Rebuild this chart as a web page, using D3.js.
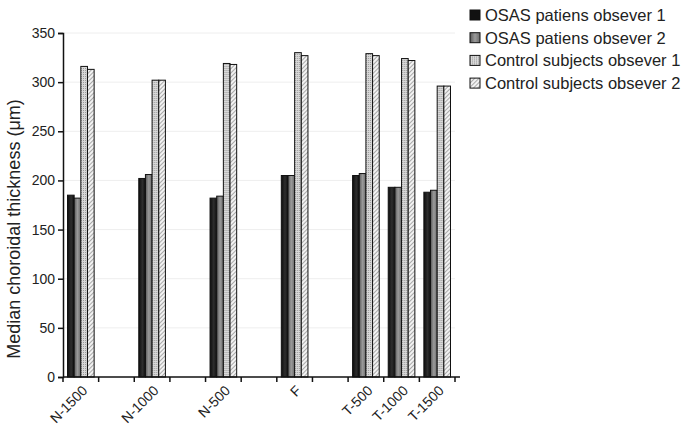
<!DOCTYPE html>
<html lang="en">
<head>
<meta charset="UTF-8">
<title>Median choroidal thickness</title>
<style>
  body { margin: 0; background: #fff; }
  svg { display: block; }
  svg text { font-family: Arial, "Liberation Sans", Helvetica, sans-serif; }
</style>
</head>
<body>
<div id="chart"></div>
<script src="https://d3js.org/d3.v7.min.js"></script>
<script>
// x slots: empty strings are gaps on the axis
const slots = ['N-1500', '', 'N-1000', '', 'N-500', '', 'F', '', 'T-500', 'T-1000', 'T-1500']
const categories = ['N-1500', 'N-1000', 'N-500', 'F', 'T-500', 'T-1000', 'T-1500']
const seriesNames = [
  'OSAS patiens obsever 1',
  'OSAS patiens obsever 2',
  'Control subjects obsever 1',
  'Control subjects obsever 2'
]
const osas1 = [185, 202, 182, 205, 205, 193, 188]
const osas2 = [182, 206, 184, 205, 207, 193, 190]
const control1 = [316, 302, 319, 330, 329, 324, 296]
const control2 = [313, 302, 318, 327, 327, 322, 296]
const yTicks = [0, 50, 100, 150, 200, 250, 300, 350]

const width = 690
const height = 428
const margin = { left: 63, right: 235, top: 33, bottom: 51 }
const fontFamily = 'Arial, "Liberation Sans", Helvetica, sans-serif'

const series = [osas1, osas2, control1, control2]

const svg = d3.select('#chart').append('svg')
  .attr('width', width)
  .attr('height', height)

// patterns / gradients for the four bar styles
const defs = svg.append('defs')
const g1 = defs.append('linearGradient').attr('id', 'gBlack')
g1.append('stop').attr('offset', '0%').attr('stop-color', '#0d0d0d')
g1.append('stop').attr('offset', '55%').attr('stop-color', '#2e2e2e')
g1.append('stop').attr('offset', '100%').attr('stop-color', '#101010')
const g2 = defs.append('linearGradient').attr('id', 'gGray')
g2.append('stop').attr('offset', '0%').attr('stop-color', '#5a5a5a')
g2.append('stop').attr('offset', '50%').attr('stop-color', '#9a9a9a')
g2.append('stop').attr('offset', '100%').attr('stop-color', '#6a6a6a')

const dots = defs.append('pattern').attr('id', 'pDots')
  .attr('patternUnits', 'userSpaceOnUse').attr('width', 2).attr('height', 2)
dots.append('rect').attr('width', 2).attr('height', 2).attr('fill', '#d8d8d8')
dots.append('rect').attr('width', 1).attr('height', 1).attr('fill', '#9a9a9a')

const hatch = defs.append('pattern').attr('id', 'pHatch')
  .attr('patternUnits', 'userSpaceOnUse').attr('width', 3).attr('height', 3)
  .attr('patternTransform', 'rotate(45)')
hatch.append('rect').attr('width', 3).attr('height', 3).attr('fill', '#f2f2f2')
hatch.append('line').attr('x1', 0).attr('y1', 0).attr('x2', 0).attr('y2', 3)
  .attr('stroke', '#777').attr('stroke-width', 1.2)

const fills = ['url(#gBlack)', 'url(#gGray)', 'url(#pDots)', 'url(#pHatch)']
const swatchFills = ['#111', 'url(#gGray)', 'url(#pDots)', 'url(#pHatch)']

const x = d3.scaleBand()
  .domain(d3.range(slots.length))
  .range([margin.left, width - margin.right])

const xSub = d3.scaleBand()
  .domain(d3.range(series.length))
  .range([4.5, x.bandwidth() - 4.5])
  .padding(0)

const y = d3.scaleLinear()
  .domain([0, 350])
  .range([height - margin.bottom, margin.top])

// faint gridlines
svg.append('g')
  .selectAll('line')
  .data(yTicks.filter(d => d > 0))
  .join('line')
  .attr('x1', margin.left)
  .attr('x2', width - margin.right)
  .attr('y1', d => y(d))
  .attr('y2', d => y(d))
  .attr('stroke', '#eeeeee')
  .attr('stroke-width', 1)

// bars
categories.forEach((cat, ci) => {
  const slot = slots.indexOf(cat)
  const grp = svg.append('g').attr('transform', `translate(${x(slot)},0)`)
  series.forEach((vals, si) => {
    grp.append('rect')
      .attr('x', xSub(si))
      .attr('y', y(vals[ci]))
      .attr('width', xSub.bandwidth())
      .attr('height', y(0) - y(vals[ci]))
      .attr('fill', fills[si])
      .attr('stroke', '#111')
      .attr('stroke-width', 1)
  })
})

// y axis
const yAxis = svg.append('g')
  .attr('transform', `translate(${margin.left},0)`)
  .call(d3.axisLeft(y).tickValues(yTicks).tickSize(5).tickPadding(3))
yAxis.attr('font-family', fontFamily)
yAxis.select('.domain').attr('stroke', '#111').attr('stroke-width', 1.5)
yAxis.selectAll('.tick line').attr('stroke', '#111').attr('stroke-width', 1.5)
yAxis.selectAll('.tick text')
  .attr('font-size', 14)
  .attr('fill', '#222')
  .style('font-family', fontFamily)

// x axis: ticks at band edges
const xAxisG = svg.append('g').attr('transform', `translate(0,${y(0)})`)
xAxisG.append('line')
  .attr('x1', margin.left)
  .attr('x2', width - margin.right + 5)
  .attr('stroke', '#111')
  .attr('stroke-width', 1.5)
const edges = d3.range(slots.length + 1).map(i => margin.left + i * x.step())
xAxisG.selectAll('line.tick')
  .data(edges)
  .join('line')
  .attr('class', 'tick')
  .attr('x1', d => d)
  .attr('x2', d => d)
  .attr('y1', 0)
  .attr('y2', 5)
  .attr('stroke', '#111')
  .attr('stroke-width', 1.5)

xAxisG.selectAll('text')
  .data(categories)
  .join('text')
  .attr('transform', d => {
    const cx = x(slots.indexOf(d)) + x.bandwidth() / 2 + 4
    return `translate(${cx},11) rotate(-45)`
  })
  .attr('text-anchor', 'end')
  .attr('dominant-baseline', 'central')
  .attr('font-size', 14)
  .attr('fill', '#222')
  .style('font-family', fontFamily)
  .text(d => d)

// y axis title
svg.append('text')
  .attr('transform', `translate(20,${(y(0) + y(350)) / 2 + 24}) rotate(-90)`)
  .attr('text-anchor', 'middle')
  .attr('font-size', 18)
  .attr('fill', '#222')
  .style('font-family', fontFamily)
  .text('Median choroidal thickness (μm)')

// legend
const legend = svg.append('g').attr('transform', 'translate(470,10)')
seriesNames.forEach((name, i) => {
  const row = legend.append('g').attr('transform', `translate(0,${i * 22.7})`)
  row.append('rect')
    .attr('width', 10)
    .attr('height', 10)
    .attr('fill', swatchFills[i])
    .attr('stroke', '#111')
    .attr('stroke-width', 1)
  row.append('text')
    .attr('x', 15)
    .attr('y', 5)
    .attr('dominant-baseline', 'central')
    .attr('font-size', 16.5)
    .attr('fill', '#222')
    .style('font-family', fontFamily)
    .text(name)
})
</script>
</body>
</html>
